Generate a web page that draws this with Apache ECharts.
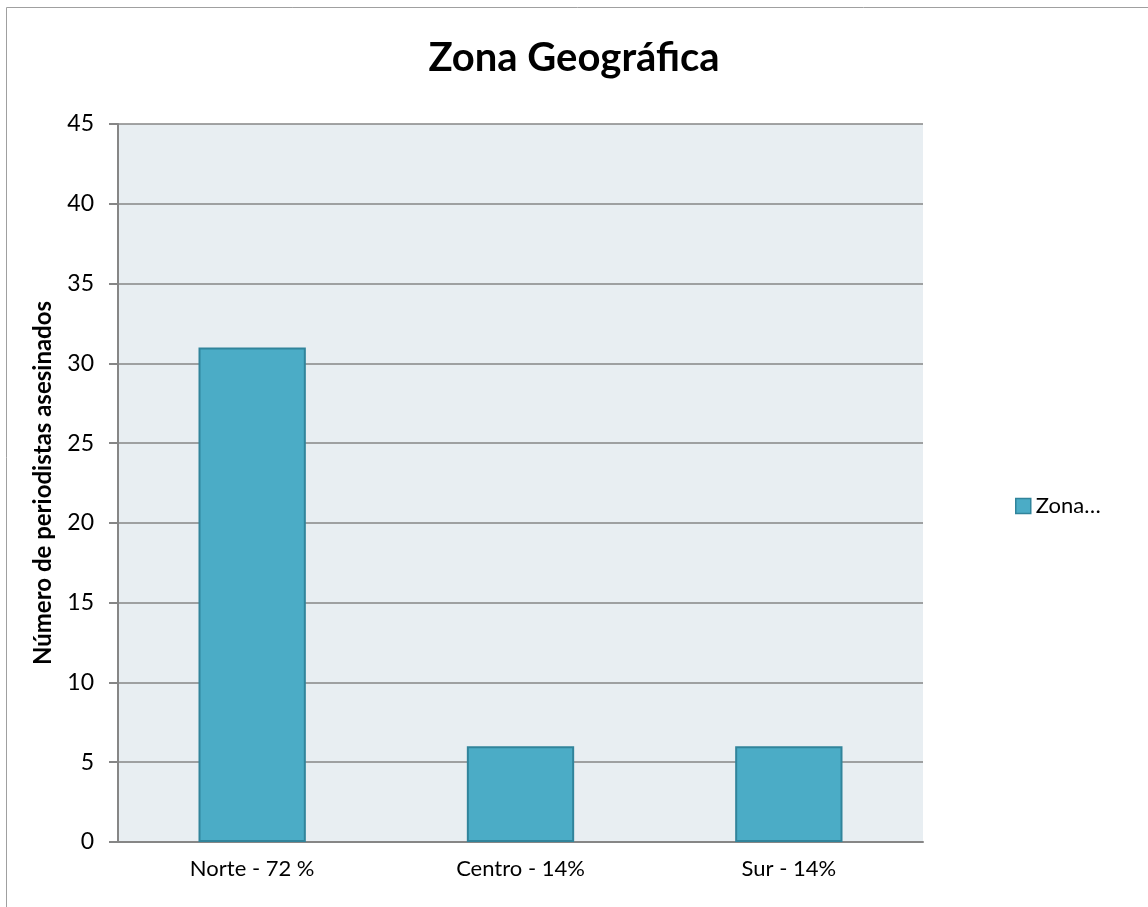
<!DOCTYPE html>
<html>
<head>
<meta charset="utf-8">
<script src="https://cdn.jsdelivr.net/npm/echarts@6/dist/echarts.min.js"></script>
<style>
	html, body { margin: 0; padding: 0; background: #fff; }
	#chart { width: 1148px; height: 907px; }
</style>
</head>
<body>
<div id="chart"></div>
<script>
	const categories = ["Norte - 72 %", "Centro - 14%", "Sur - 14%"];
	const values = [31, 6, 6];
	const seriesName = "Zona Geográfica";
	const yTicks = { min: 0, max: 45, interval: 5 };

	const font = "Lato, 'Open Sans', sans-serif";
	const chart = echarts.init(document.getElementById("chart"));
	chart.setOption({
		animation: false,
		textStyle: { fontFamily: font },
		graphic: [
			{
				type: "rect",
				shape: { x: 6.5, y: 7.5, width: 1160, height: 910 },
				style: { fill: "none", stroke: "#a0a0a0", lineWidth: 1 },
				silent: true,
			},
		],
		title: {
			text: "Zona Geográfica",
			left: "center",
			top: 33,
			textStyle: { fontSize: 40, fontWeight: "bold", color: "#000", fontFamily: font },
		},
		legend: {
			left: 1010,
			top: 490,
			itemWidth: 15,
			itemHeight: 15,
			itemGap: 4,
			formatter: () => "Zona…",
			textStyle: { fontSize: 22, color: "#000", fontFamily: font },
			data: [{ name: seriesName, icon: "rect", itemStyle: { borderColor: "#31849B", borderWidth: 1.5 } }],
		},
		grid: {
			left: 118,
			right: 225,
			top: 124,
			bottom: 65,
			show: true,
			backgroundColor: "#E8EEF2",
			borderWidth: 0,
		},
		xAxis: {
			type: "category",
			data: categories,
			axisLine: { lineStyle: { color: "#868686", width: 2 } },
			axisTick: { show: false },
			axisLabel: { fontSize: 22, color: "#000", margin: 16, fontFamily: font },
		},
		yAxis: {
			type: "value",
			min: yTicks.min,
			max: yTicks.max,
			interval: yTicks.interval,
			name: "Número de periodistas asesinados",
			nameLocation: "middle",
			nameGap: 63,
			nameTextStyle: { fontSize: 24, fontWeight: "bold", color: "#000", fontFamily: font },
			axisLine: { show: true, lineStyle: { color: "#868686", width: 2 } },
			axisTick: { show: true, length: 9, lineStyle: { color: "#868686", width: 2 } },
			axisLabel: { fontSize: 23, color: "#000", margin: 24, fontFamily: font },
			splitLine: { lineStyle: { color: "#868686", width: 1.5 } },
		},
		series: [
			{
				name: seriesName,
				type: "bar",
				data: values,
				barWidth: "40%",
				itemStyle: { color: "#4BACC6", borderColor: "#31849B", borderWidth: 2 },
			},
		],
	});
</script>
</body>
</html>
